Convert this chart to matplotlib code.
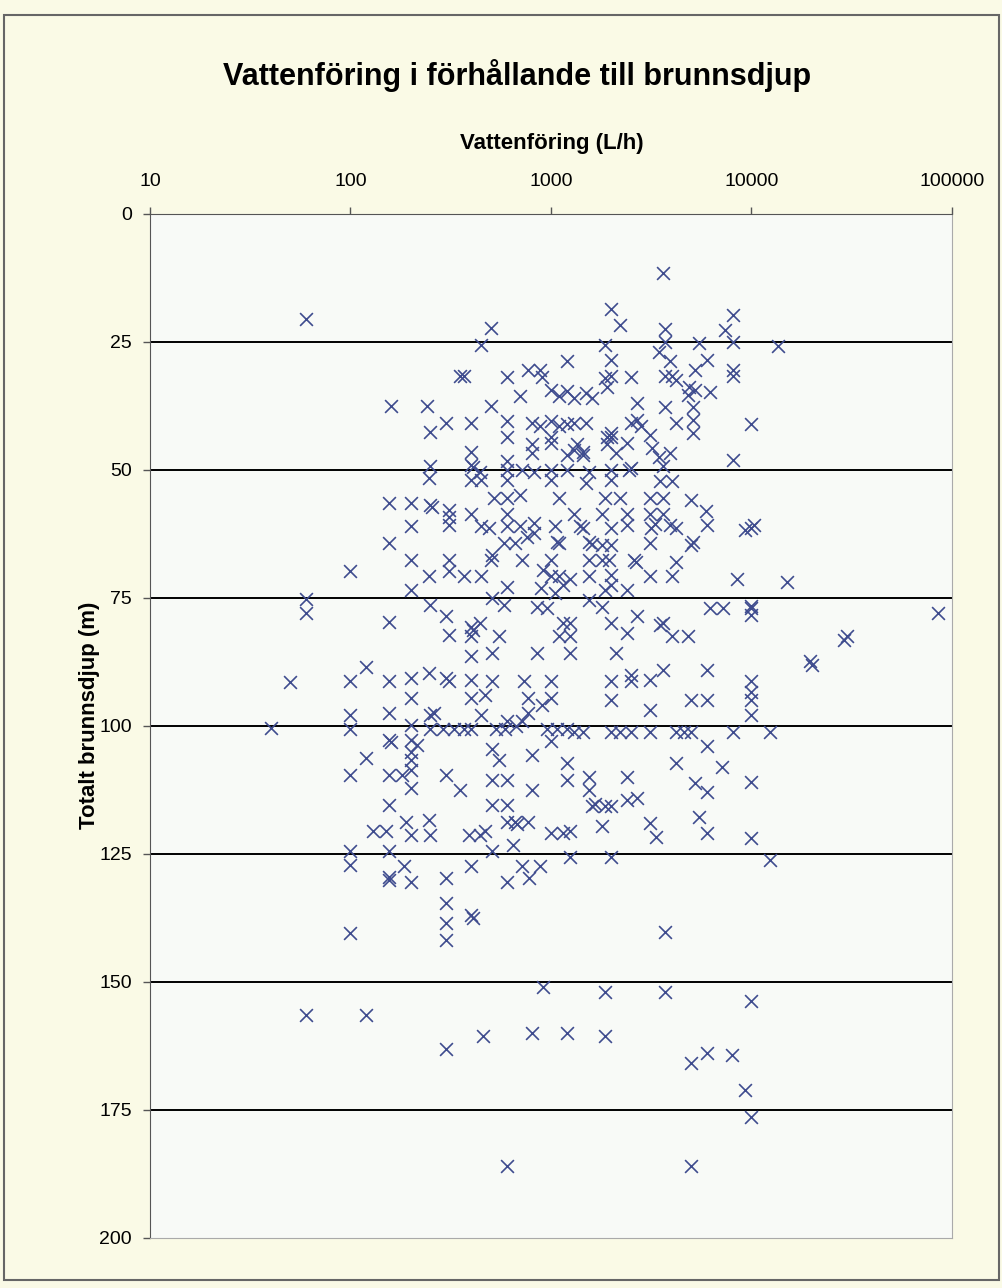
import matplotlib
matplotlib.use("Agg")
import matplotlib.pyplot as plt
from matplotlib.ticker import FuncFormatter, NullLocator
from matplotlib.patches import Rectangle

plt.rcParams['font.family'] = ['Liberation Sans', 'DejaVu Sans']

# vattenföring (L/h) och totalt brunnsdjup (m)
flow_lh = [
    3600, 60, 60, 60, 50, 40,
    500, 450, 350, 370, 600, 770, 880, 900, 1000, 1200, 700, 160, 240, 500,
    300, 400, 250, 600, 600, 800, 880, 1000, 1000, 1000, 800, 800, 400, 400,
    410, 440, 400, 450, 250, 245, 600, 600, 600, 720, 820, 1000, 1000,
    2000, 2200, 1850, 3700, 3700, 3450, 5500, 8100, 7400, 8100, 13500,
    2000, 1850, 1900, 2000, 2500, 3700, 4000, 3900, 4200, 5200, 6000, 4900,
    5200, 6200, 4800, 8100, 8100, 3700, 5100, 5100, 5100, 4200, 10000, 8100,
    2700, 2700, 2500, 2800, 3100, 1500, 1300, 2000, 2000, 1900, 1450, 1450,
    1350, 1900, 2100, 2400, 2500, 2450, 2000, 2000, 1550, 1500, 3200, 3450,
    3900, 3600, 3500, 4000, 1300,
    1100, 1200, 1300, 1500, 1600, 1100, 1200, 1200, 1200, 1050, 1400, 1050,
    1150,
    155, 200, 250, 255, 310, 310, 310, 400, 520, 600, 700, 1100, 200, 450,
    490, 600, 600, 700, 820, 820, 580, 660, 760, 1070, 1100, 155, 200, 310,
    310, 510, 500, 720, 1000, 910, 1000, 1100, 100, 245, 370, 450, 600, 890,
    200, 250, 510, 580, 850, 950, 155, 300, 400, 410, 440, 310, 400, 550,
    510, 400, 850, 1100, 1150, 120, 100, 155, 200, 245, 300, 310, 400, 510,
    730, 1000,
    1850, 2200, 3100, 3600, 5000, 1300, 1800, 2400, 3100, 3600, 5900, 1450,
    2000, 2400, 3150, 3300, 3900, 4200, 6000, 9300, 10000, 10300, 1550, 1600,
    1800, 2000, 3100, 5100, 5000, 1550, 1800, 1950, 2600, 2650, 4200, 1250,
    1550, 2000, 3100, 4000, 8500, 15000, 2000, 1850, 2400, 1550, 1800, 6200,
    7200, 10000, 10000, 10000, 2000, 2700, 2400, 3600, 3500, 4000, 4800,
    1250, 1250, 1250, 2100, 3600, 6000, 2000, 2500, 2500, 3100, 10000,
    85000, 30000, 29000, 20000, 19500,
    200, 100, 155, 250, 260, 400, 470, 450, 770, 1000, 900, 770, 720, 600,
    100, 200, 250, 290, 330, 370, 400, 530, 590, 670, 950, 1070, 1200, 155,
    160, 200, 215, 120, 200, 200, 510, 550, 800, 1200, 100, 155, 180, 200,
    200, 300, 350, 510, 600, 800, 1200, 155, 510, 600, 190, 245, 130, 150,
    200, 250, 390, 440, 470, 600, 660, 680, 770, 1000, 1150, 650, 100, 155,
    510, 100, 185, 155, 155, 200, 300, 400, 600, 720, 780, 880, 300, 1000,
    2000, 3100, 5000, 6000, 10000, 10000, 10000, 1300, 1450, 2000, 2200,
    2500, 3100, 4200, 4600, 5000, 8100, 12300, 6000, 4200, 7100, 1550, 2400,
    5200, 6000, 10000, 1550, 1600, 1650, 1850, 2000, 2400, 2700, 1250, 1800,
    3100, 3350, 5500, 6000, 10000, 1250, 2000, 12300,
    300, 300, 400, 410, 100, 60, 120, 300, 460, 800, 600,
    3700, 910, 1850, 3700, 10000, 1200, 1850, 5000, 6000, 8000, 9300, 10000,
    5000,
]
depth_m = [
    11.5, 20.6, 75.2, 78, 91.4, 100.3,
    22.3, 25.5, 31.6, 31.6, 31.8, 30.5, 30.5, 31.8, 34.4, 28.8, 35.6, 37.5,
    37.5, 37.5, 40.8, 40.8, 42.5, 40.5, 43.5, 40.9, 41.5, 40.5, 43.5, 44.8,
    45, 46.7, 46.4, 49, 49.5, 50.3, 52, 52, 49.3, 51.6, 48.3, 50, 52, 50,
    50.3, 50, 52,
    18.6, 21.7, 25.6, 22.5, 25, 26.9, 25.1, 19.7, 22.7, 25, 25.8,
    28.5, 32.1, 33.7, 31.7, 31.9, 31.7, 31.7, 28.8, 32.4, 30.5, 28.5, 33.7,
    34.4, 34.7, 35.4, 30.5, 31.7, 37.6, 37.6, 40.2, 42.8, 40.9, 41, 48,
    37, 40.2, 40.9, 41.5, 43.2, 40.9, 40.9, 42.8, 43.5, 43.5, 46.4, 47,
    45, 45, 46.7, 44.8, 49.7, 50, 50, 52, 50.3, 52.6, 45.8, 47.4,
    46.7, 49.3, 52.2, 52.2, 46,
    35.5, 34.5, 36, 35, 36, 41.5, 41, 47, 50, 61, 61, 74,
    72.5,
    56.5, 56.5, 56.8, 57.2, 57.8, 59.1, 60.7, 58.5, 55.5, 55.5, 54.9, 55.5,
    61, 61, 61.4, 58.5, 61, 61, 60.4, 62.4, 64.3, 64.3, 63, 64, 64.3, 64.3,
    67.6, 67.6, 69.8, 66.6, 67.6, 67.6, 67.6, 69.5, 70.8, 70.8, 69.8, 70.8,
    70.8, 70.8, 72.8, 73.1, 73.4, 76.4, 75, 76.4, 76.7, 77, 79.6, 78.6,
    80.6, 81.2, 79.9, 82.2, 82.5, 82.5, 85.8, 86.4, 85.8, 82.5, 79.9, 88.4,
    91.3, 91.3, 90.7, 89.7, 90.7, 91.2, 91, 91.3, 91.3, 91.3,
    55.5, 55.5, 55.5, 55.5, 55.9, 58.5, 58.5, 58.5, 58.5, 58.5, 58.1, 61.4,
    61.4, 60.7, 61.4, 60.5, 60.7, 61.4, 60.7, 61.7, 61.4, 60.8, 64, 64.5,
    64.6, 64.6, 64.3, 64, 64.6, 67.6, 67.6, 67.6, 67.6, 68, 67.9, 71.2,
    70.8, 70.5, 70.8, 70.8, 71.2, 71.8, 72.5, 73.4, 73.4, 75.4, 76.7, 77,
    77, 77, 76.5, 78.3, 79.9, 78.6, 81.9, 79.9, 80.2, 82.5, 82.5,
    79.9, 82.5, 85.8, 85.8, 89.1, 89.1, 91.3, 90, 91.3, 91, 91.3,
    78, 82.5, 83.2, 88.1, 87.3,
    94.6, 97.9, 97.5, 97.9, 97.5, 94.6, 93.9, 97.9, 94.6, 94.6, 95.9, 97.5,
    99.1, 99.1, 100.6, 99.8, 100.6, 100.6, 100.6, 100.6, 100.6, 100.6,
    100.6, 100, 100.6, 100.6, 100.6, 102.7, 103.2, 102.7, 103.7, 106.3, 105,
    106.6, 104.4, 106.6, 105.7, 107.3, 109.6, 109.6, 109.6, 108.6, 112.2,
    109.6, 112.5, 110.5, 110.5, 112.5, 110.5, 115.4, 115.4, 115.4, 118.7,
    118.4, 120.6, 120.6, 121.3, 121.3, 121.3, 121.3, 120.6, 118.7, 118.7,
    119.2, 118.7, 120.9, 120.9, 123.2, 124.5, 124.5, 124.5, 127.1, 127.4,
    129.4, 130, 130.4, 129.7, 127.4, 130.4, 127.4, 129.7, 127.4, 134.5, 103,
    94.9, 96.9, 94.9, 94.9, 94.9, 97.9, 93.3, 101.1, 101.1, 101.1, 101.1,
    101.1, 101.1, 101.1, 101.1, 101.1, 101.1, 101.1, 104, 107.3, 108, 109.9,
    109.9, 111.2, 112.8, 110.9, 112.5, 115.7, 115.2, 115.7, 115.7, 114.5,
    114.1, 120.6, 119.6, 119, 121.6, 117.7, 120.9, 121.9, 125.5, 125.5,
    126.2,
    138.5, 141.8, 136.9, 137.5, 140.5, 156.4, 156.4, 163, 160.6, 160, 186,
    140.2, 150.9, 151.9, 151.9, 153.8, 160, 160.6, 165.9, 163.9, 164.3,
    171.1, 176.3, 186,
]

x_ticks = [10, 100, 1000, 10000, 100000]
y_ticks = [0, 25, 50, 75, 100, 125, 150, 175, 200]

W, H = 1003, 1288
fig = plt.figure(figsize=(W / 100, H / 100), dpi=100, facecolor='#FAFAE6')
fig.patches.append(Rectangle((0.004, 0.006), 0.992, 0.982, transform=fig.transFigure,
                             fill=False, edgecolor='#666666', lw=1.5))

ax = fig.add_axes([150 / W, 1 - 1238 / H, 802 / W, 1024 / H])
ax.set_facecolor('#F8FAF7')

ax.scatter(flow_lh, depth_m, marker='x', s=85, c='#3F4C8E', linewidths=1.2, zorder=3)

ax.set_xscale('log')
ax.set_xlim(10, 100000)
ax.set_ylim(200, 0)

ax.xaxis.tick_top()
ax.set_xticks(x_ticks)
ax.xaxis.set_major_formatter(FuncFormatter(lambda v, p: f'{v:.0f}'))
ax.xaxis.set_minor_locator(NullLocator())
ax.set_yticks(y_ticks)

ax.tick_params(axis='x', direction='out', length=5, width=1, color='#555555',
               labelsize=14, pad=12)
ax.tick_params(axis='y', direction='out', length=5, width=1, color='#555555',
               labelsize=14, pad=8)

for yv in y_ticks[1:-1]:
    ax.axhline(yv, color='black', lw=1.4, zorder=2)

ax.spines['top'].set_color('#555555')
ax.spines['left'].set_color('#555555')
ax.spines['right'].set_color('#AAAAAA')
ax.spines['bottom'].set_color('#AAAAAA')

fig.text(517 / W, 1 - 75 / H, 'Vattenföring i förhållande till brunnsdjup',
         ha='center', va='center', fontsize=22, fontweight='bold')
fig.text(552 / W, 1 - 143 / H, 'Vattenföring (L/h)',
         ha='center', va='center', fontsize=16, fontweight='bold')
fig.text(90 / W, 1 - 715 / H, 'Totalt brunnsdjup (m)', rotation=90,
         ha='center', va='center', fontsize=16, fontweight='bold')

fig.savefig('out.png', dpi=100, facecolor=fig.get_facecolor())
